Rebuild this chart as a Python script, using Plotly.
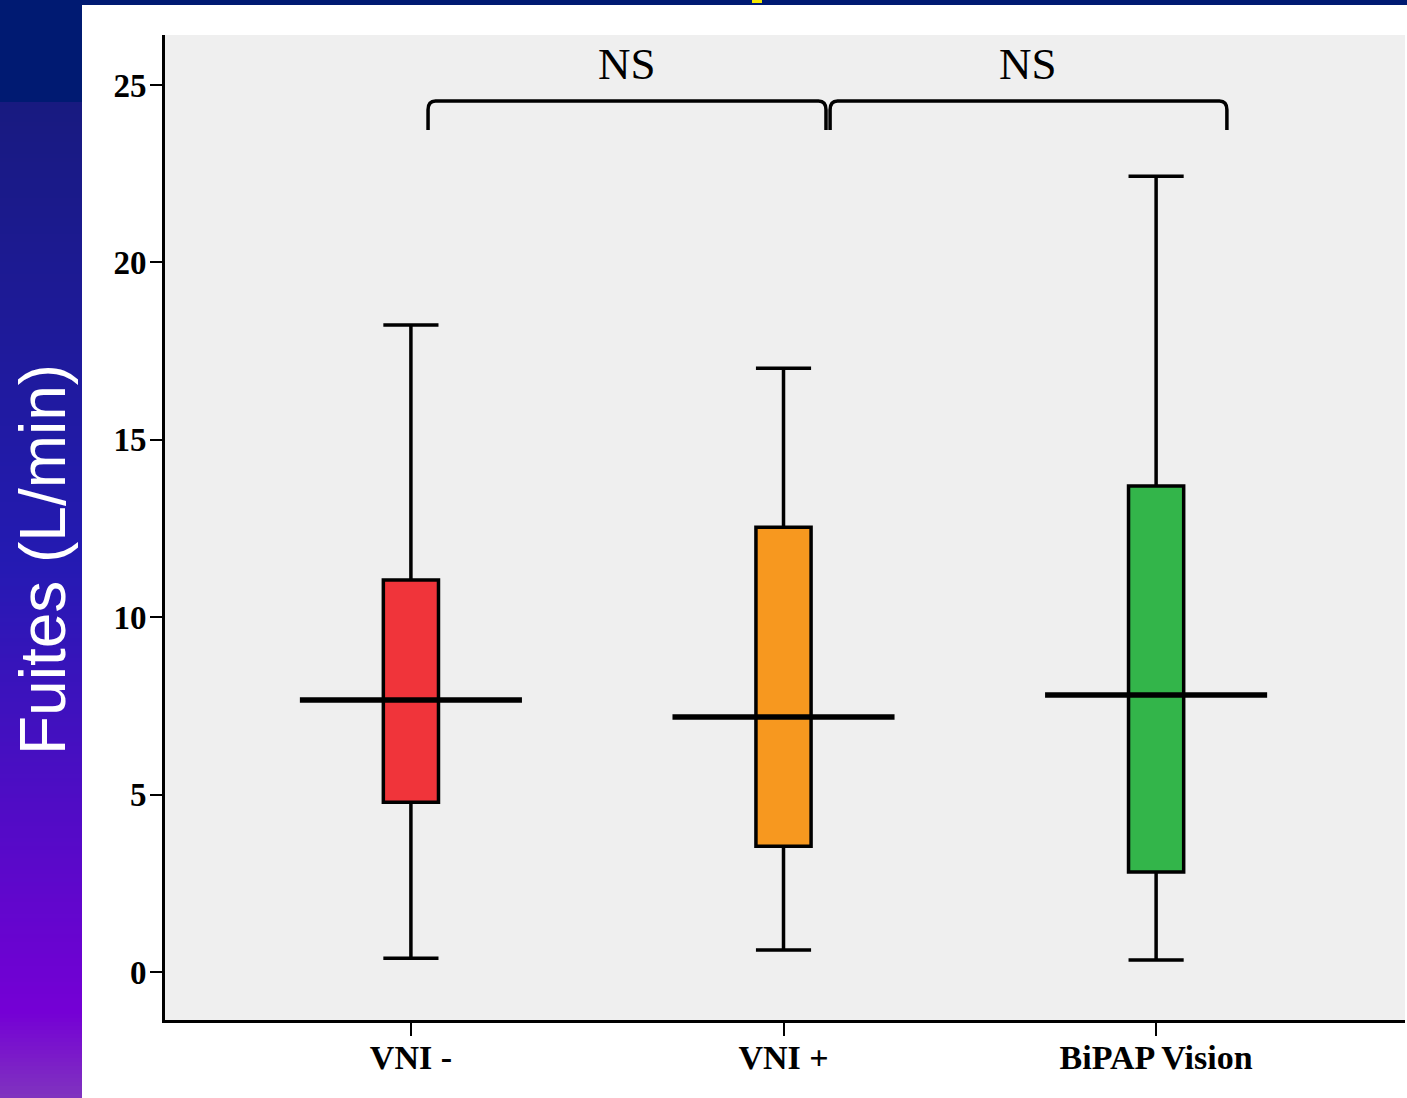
import plotly.graph_objects as go

# ---- data ----
categories = ["VNI -", "VNI +", "BiPAP Vision"]
lower_whisker = [0.39, 0.62, 0.34]
q1_values = [4.79, 3.55, 2.82]
median_values = [7.67, 7.19, 7.81]
q3_values = [11.05, 12.54, 13.70]
upper_whisker = [18.24, 17.02, 22.43]
box_colors = ["#f0343a", "#f7981f", "#33b54a"]
y_ticks = [0, 5, 10, 15, 20, 25]
comparisons = [("VNI -", "VNI +", "NS"), ("VNI +", "BiPAP Vision", "NS")]

W, H = 1407, 1098
ML, MR, MT, MB = 165, 2, 35, 78
PW, PH = W - ML - MR, H - MT - MB


def px_x(p):
    return (p - ML) / PW


def px_y(p):
    return (H - MB - p) / PH


fig = go.Figure()

for i, cat in enumerate(categories):
    fig.add_trace(go.Box(
        x=[i], q1=[q1_values[i]], median=[median_values[i]], q3=[q3_values[i]],
        lowerfence=[lower_whisker[i]], upperfence=[upper_whisker[i]],
        fillcolor=box_colors[i], line=dict(color="black", width=3.5),
        width=0.148, whiskerwidth=1, boxpoints=False, showlegend=False,
        name=cat, hoverinfo="skip"))

shapes = []
# wide median lines
for i, m in enumerate(median_values):
    shapes.append(dict(type="line", xref="x", yref="y", x0=i - 0.298, x1=i + 0.298,
                       y0=m, y1=m, line=dict(color="black", width=5.5), layer="above"))

# brackets
annotations = []
br_top, br_bot = 24.55, 23.73
for a, b, label in comparisons:
    ia, ib = categories.index(a), categories.index(b)
    x0 = ia + (0.046 if ia == 0 else 0.125)
    x1 = ib + (0.114 if ib == 1 else 0.19)
    rx, ry = 0.02, 0.25
    path = (f"M {x0},{br_bot} L {x0},{br_top - ry} Q {x0},{br_top} {x0 + rx},{br_top} "
            f"L {x1 - rx},{br_top} Q {x1},{br_top} {x1},{br_top - ry} L {x1},{br_bot}")
    shapes.append(dict(type="path", xref="x", yref="y", path=path,
                       line=dict(color="black", width=3.5)))
    annotations.append(dict(x=(x0 + x1) / 2, y=25.6, xref="x", yref="y", text=label,
                            showarrow=False, xanchor="center", yanchor="middle",
                            font=dict(family="Liberation Serif", size=45, color="black")))

# decorative slide background: top band and left gradient band
shapes.append(dict(type="rect", xref="paper", yref="paper", x0=px_x(0), x1=px_x(W),
                   y0=px_y(5), y1=px_y(0), fillcolor="#001a72", line=dict(width=0), layer="below"))
shapes.append(dict(type="rect", xref="paper", yref="paper", x0=px_x(752), x1=px_x(762),
                   y0=px_y(3), y1=px_y(0), fillcolor="#f2e600", line=dict(width=0), layer="below"))
shapes.append(dict(type="rect", xref="paper", yref="paper", x0=px_x(0), x1=px_x(82),
                   y0=px_y(102), y1=px_y(0), fillcolor="#001a72", line=dict(width=0), layer="below"))

stops = [(102, (24, 26, 128)), (560, (36, 26, 178)), (1013, (117, 0, 213)), (1098, (128, 52, 190))]


def col_at(p):
    for (p0, c0), (p1, c1) in zip(stops[:-1], stops[1:]):
        if p0 <= p <= p1:
            t = (p - p0) / (p1 - p0)
            return "rgb(%d,%d,%d)" % tuple(round(c0[k] + (c1[k] - c0[k]) * t) for k in range(3))
    return "rgb(%d,%d,%d)" % stops[-1][1]


step = 4
p = 102
while p < H:
    shapes.append(dict(type="rect", xref="paper", yref="paper", x0=px_x(0), x1=px_x(82),
                       y0=px_y(min(p + step + 1, H)), y1=px_y(p), fillcolor=col_at(p + step / 2),
                       line=dict(width=0), layer="below"))
    p += step

annotations.append(dict(x=px_x(43), y=px_y(560), xref="paper", yref="paper",
                        text="Fuites (L/min)", textangle=-90, showarrow=False,
                        xanchor="center", yanchor="middle",
                        font=dict(family="Liberation Sans", size=64, color="white")))

fig.update_layout(
    width=W, height=H,
    margin=dict(l=ML, r=MR, t=MT, b=MB),
    paper_bgcolor="white", plot_bgcolor="#efefef",
    shapes=shapes, annotations=annotations,
    xaxis=dict(range=[-0.66, 2.668], tickvals=list(range(len(categories))), ticktext=categories,
               showgrid=False, zeroline=False, showline=True, linecolor="black", linewidth=3,
               ticks="outside", ticklen=13, tickwidth=2, tickcolor="black", ticklabelstandoff=-8,
               tickfont=dict(family="Liberation Serif", size=34, color="black", weight="bold")),
    yaxis=dict(range=[-1.35, 26.41], tickvals=y_ticks,
               showgrid=False, zeroline=False, showline=True, linecolor="black", linewidth=3,
               ticks="outside", ticklen=12, tickwidth=2, tickcolor="black", ticklabelstandoff=-3,
               tickfont=dict(family="Liberation Serif", size=33, color="black", weight="bold")),
)

fig.write_html("out.html", config={"displayModeBar": False},
               post_script="document.body.style.margin='0';document.body.style.padding='0';")
